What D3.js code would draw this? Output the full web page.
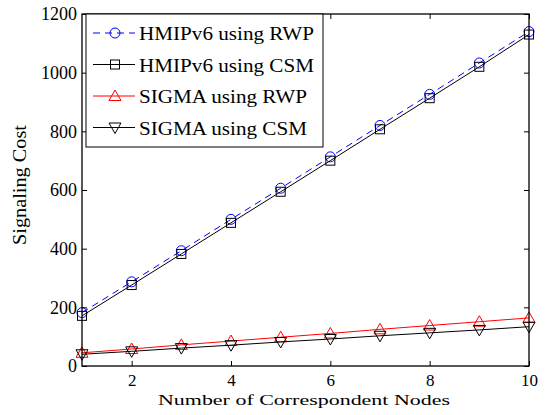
<!DOCTYPE html>
<html><head><meta charset="utf-8">
<script src="https://cdn.jsdelivr.net/npm/d3@7"></script>
<style>body{margin:0;background:#fff}svg{display:block}text{font-family:"Liberation Serif","Times New Roman",serif;fill:#000}</style>
</head><body><svg id="c" width="557" height="415"></svg>
<script>
const nodes = [1,2,3,4,5,6,7,8,9,10];
const hmipRWP = [182,287,393,500,606,713,820,926,1033,1140];
const hmipCSM = [171,276,382,488,594,700,807,913,1020,1130];
const sigmaRWP = [45,58,72,85,98,111,125,138,151,164];
const sigmaCSM = [40,50,61,71,82,92,103,113,123,134];
const xTicks = [2,4,6,8,10];
const yTicks = [0,200,400,600,800,1000,1200];
const seriesNames = ["HMIPv6 using RWP","HMIPv6 using CSM","SIGMA using RWP","SIGMA using CSM"];

const svg = d3.select("#c");
const L=82,R=529,T=14,B=366;
const x = d3.scaleLinear().domain([1,10]).range([L,R]);
const y = d3.scaleLinear().domain([0,1200]).range([B,T]);

const series = [
  {name:seriesNames[0], v:hmipRWP, color:"#0000ff", dash:"7,5", marker:"circle"},
  {name:seriesNames[1], v:hmipCSM, color:"#000", dash:null, marker:"square"},
  {name:seriesNames[2], v:sigmaRWP, color:"#ff0000", dash:null, marker:"up"},
  {name:seriesNames[3], v:sigmaCSM, color:"#000", dash:null, marker:"down"}
];

function drawMarker(g, type, cx, cy, color){
  if(type==="circle") g.append("circle").attr("cx",cx).attr("cy",cy).attr("r",5).attr("fill","none").attr("stroke",color).attr("stroke-width",1);
  else if(type==="square") g.append("rect").attr("x",cx-4.5).attr("y",cy-4.5).attr("width",9).attr("height",9).attr("fill","none").attr("stroke",color).attr("stroke-width",1);
  else if(type==="up") g.append("path").attr("d",`M${cx},${cy-6}L${cx+6},${cy+4.5}L${cx-6},${cy+4.5}Z`).attr("fill","none").attr("stroke",color).attr("stroke-width",1);
  else g.append("path").attr("d",`M${cx},${cy+6}L${cx+6},${cy-4.5}L${cx-6},${cy-4.5}Z`).attr("fill","none").attr("stroke",color).attr("stroke-width",1);
}

function fitWidth(sel, w){
  sel.attr("textLength",w).attr("lengthAdjust","spacingAndGlyphs");
}

const line = d3.line().x((d,i)=>x(nodes[i])).y(d=>y(d));
const plot = svg.append("g");
series.forEach(s=>{
  plot.append("path").attr("d",line(s.v)).attr("fill","none").attr("stroke",s.color).attr("stroke-width",1)
    .attr("stroke-dasharray",s.dash);
  s.v.forEach((v,i)=>drawMarker(plot,s.marker,x(nodes[i]),y(v),s.color));
});

// axes
const tl=5;
const xb = svg.append("g").attr("transform",`translate(0,${B})`).call(d3.axisBottom(x).tickValues(xTicks).tickSize(-tl).tickPadding(8).tickFormat(d3.format("d")));
const xt = svg.append("g").attr("transform",`translate(0,${T})`).call(d3.axisTop(x).tickValues(xTicks).tickSize(-tl).tickFormat(""));
const yl = svg.append("g").attr("transform",`translate(${L},0)`).call(d3.axisLeft(y).tickValues(yTicks).tickSize(-tl).tickPadding(5).tickFormat(d3.format("d")));
const yr = svg.append("g").attr("transform",`translate(${R},0)`).call(d3.axisRight(y).tickValues(yTicks).tickSize(-tl).tickFormat(""));
[xb,xt,yl,yr].forEach(a=>{
  a.select(".domain").remove();
  a.selectAll("line").attr("stroke","#000");
  a.selectAll("text").style("font-size","17px").style("font-family","'Liberation Serif',serif").attr("fill","#000");
});
yl.selectAll("text").style("font-size","18px");
svg.append("rect").attr("x",L).attr("y",T).attr("width",R-L).attr("height",B-T).attr("fill","none").attr("stroke","#000").attr("stroke-width",1.3);

// labels
const xl = svg.append("text").attr("x",304).attr("y",405).attr("text-anchor","middle").style("font-size","15px").text("Number of Correspondent Nodes");
fitWidth(xl,292);
const ylab = svg.append("text").attr("transform",`translate(26,185) rotate(-90)`).attr("text-anchor","middle").style("font-size","18px").text("Signaling Cost");
fitWidth(ylab,120);

// legend
const lg = svg.append("g");
lg.append("rect").attr("x",86).attr("y",T).attr("width",237).attr("height",133).attr("fill","#fff").attr("stroke","#000").attr("stroke-width",1);
let factor = null;
series.forEach((s,i)=>{
  const cy = 33+i*31.5;
  lg.append("line").attr("x1",93).attr("x2",135).attr("y1",cy).attr("y2",cy).attr("stroke",s.color).attr("stroke-width",1).attr("stroke-dasharray",s.dash);
  drawMarker(lg,s.marker,115,cy,s.color);
  const t = lg.append("text").attr("x",139).attr("y",cy+7).style("font-size","19px").text(s.name);
  const len = t.node().getComputedTextLength();
  if(factor===null) factor = 175/len;
  fitWidth(t, len*factor);
});
</script></body></html>
